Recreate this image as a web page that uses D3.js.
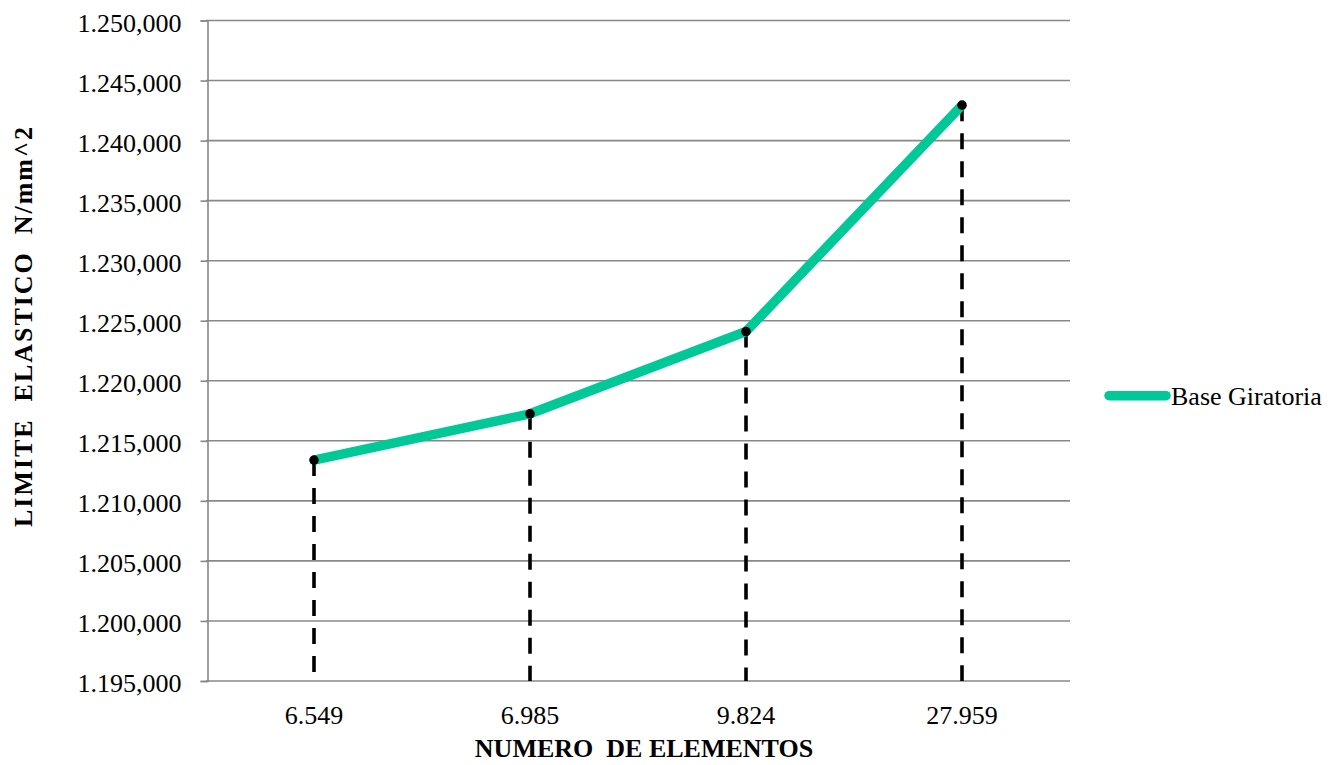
<!DOCTYPE html>
<html>
<head>
<meta charset="utf-8">
<script src="https://cdn.jsdelivr.net/npm/d3@7"></script>
<style>
  html, body { margin: 0; padding: 0; background: #fff; }
  svg { display: block; }
  svg text { font-family: "Liberation Serif", "Times New Roman", Times, serif !important; fill: #000; white-space: pre; }
</style>
</head>
<body>
<svg id="chart" width="1328" height="765"></svg>
<script>
// Element counts on the x axis and the yield limit for each mesh
const categories = ["6.549", "6.985", "9.824", "27.959"];
const seriesName = "Base Giratoria";
const values = [1213400, 1217250, 1224100, 1242950];
const yTicks = [1195000, 1200000, 1205000, 1210000, 1215000, 1220000,
                1225000, 1230000, 1235000, 1240000, 1245000, 1250000];
const xTitle = "NUMERO  DE ELEMENTOS";
const yTitle = "LIMITE  ELASTICO  N/mm^2";

const serif = "'Liberation Serif', 'Times New Roman', Times, serif";
const svg = d3.select("#chart");
const plot = { left: 206, right: 1070, top: 20.5, bottom: 681 };
const lineColor = "#00C896";
const gridColor = "#888888";

const x = d3.scaleBand().domain(categories).range([plot.left, plot.right]);
const y = d3.scaleLinear().domain([1195000, 1250000]).range([plot.bottom, plot.top]);
const cx = d => x(d) + x.bandwidth() / 2;

// thousands with "." and decimals with ",", e.g. 1.250,000
const fmt = v => {
  const s = String(v);
  return s.slice(0, 1) + "." + s.slice(1, 4) + "," + s.slice(4);
};

// horizontal gridlines
svg.append("g").selectAll("line").data(yTicks).join("line")
  .attr("x1", plot.left).attr("x2", plot.right)
  .attr("y1", d => y(d)).attr("y2", d => y(d))
  .attr("stroke", gridColor).attr("stroke-width", 1.6);

// y axis with left ticks
const yAxis = d3.axisLeft(y).tickValues(yTicks).tickSize(7).tickPadding(19).tickFormat(fmt);
const gy = svg.append("g").attr("transform", `translate(${plot.left + 1.5},0)`).call(yAxis)
  .attr("font-family", serif).attr("font-size", 26);
gy.select(".domain").attr("stroke", gridColor).attr("stroke-width", 1.6);
gy.selectAll(".tick line").attr("stroke", gridColor).attr("stroke-width", 1.6);
gy.selectAll(".tick text").attr("dy", "0.42em").attr("fill", "#000");

// x axis category labels
const xAxis = d3.axisBottom(x).tickSize(0).tickPadding(25);
const gx = svg.append("g").attr("transform", `translate(0,${plot.bottom})`).call(xAxis)
  .attr("font-family", serif).attr("font-size", 26);
gx.select(".domain").remove();
gx.selectAll(".tick text").attr("fill", "#000");

// dashed drop lines from each point to the axis
svg.append("g").selectAll("line").data(values).join("line")
  .attr("x1", (d, i) => cx(categories[i])).attr("x2", (d, i) => cx(categories[i]))
  .attr("y1", d => y(d)).attr("y2", plot.bottom)
  .attr("stroke", "#000").attr("stroke-width", 3.6)
  .attr("stroke-dasharray", "16,12");

// series line
const line = d3.line().x((d, i) => cx(categories[i])).y(d => y(d));
svg.append("path").datum(values)
  .attr("d", line)
  .attr("fill", "none").attr("stroke", lineColor)
  .attr("stroke-width", 9.5).attr("stroke-linejoin", "round");

// point markers
svg.append("g").selectAll("circle").data(values).join("circle")
  .attr("cx", (d, i) => cx(categories[i])).attr("cy", d => y(d))
  .attr("r", 4.8).attr("fill", "#000");

// legend
const lg = svg.append("g").attr("transform", "translate(1107,395.7)");
lg.append("line").attr("x1", 2).attr("x2", 59).attr("y1", 0).attr("y2", 0)
  .attr("stroke", lineColor).attr("stroke-width", 9.5).attr("stroke-linecap", "round");
lg.append("text").attr("x", 64).attr("y", 9).attr("font-family", serif).attr("font-size", 26).text(seriesName);

// axis titles
svg.append("text")
  .attr("x", 644).attr("y", 757)
  .attr("text-anchor", "middle").attr("font-family", serif).attr("font-size", 26).attr("font-weight", "bold")
  .text(xTitle);
svg.append("text")
  .attr("transform", "translate(32,327) rotate(-90)")
  .attr("text-anchor", "middle").attr("font-family", serif).attr("font-size", 26).attr("font-weight", "bold")
  .attr("textLength", 400).attr("lengthAdjust", "spacing")
  .text(yTitle);
</script>
</body>
</html>
